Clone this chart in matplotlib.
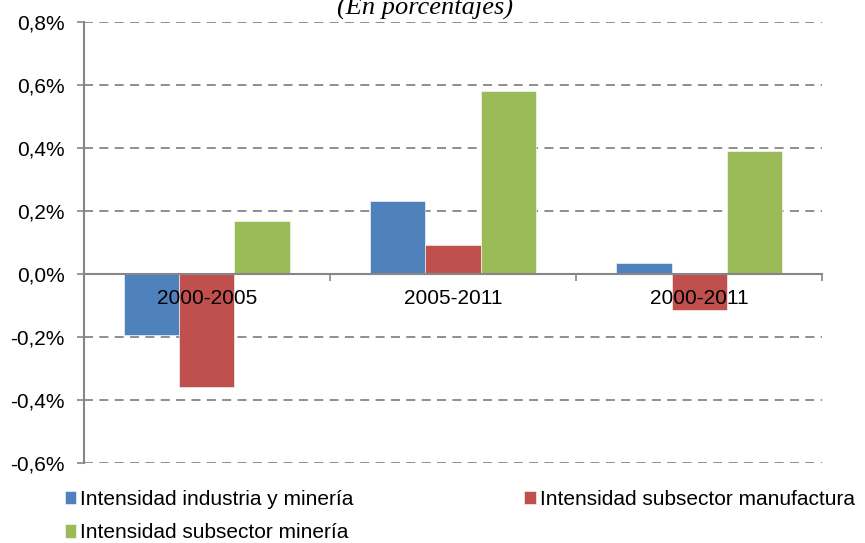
import matplotlib
matplotlib.use("Agg")
import matplotlib.pyplot as plt
import numpy as np

# Data (percent)
periods = ['2000-2005', '2005-2011', '2000-2011']
industria_mineria = [-0.195, 0.232, 0.035]
subsector_manufactura = [-0.358, 0.092, -0.114]
subsector_mineria = [0.168, 0.580, 0.391]
series_names = ['Intensidad industria y minería',
                'Intensidad subsector manufactura',
                'Intensidad subsector minería']
yticks = [-0.6, -0.4, -0.2, 0.0, 0.2, 0.4, 0.6, 0.8]

colors = ['#4F81BD', '#C0504D', '#9BBB59']
gray = '#868686'

plt.rcParams['font.family'] = ['Liberation Sans', 'DejaVu Sans']

fig = plt.figure(figsize=(8.65, 5.43), dpi=100)
ax = fig.add_axes([0.0971, 0.1473, 0.8532, 0.8122])
ax.set_axisbelow(False)  # tick labels drawn over the bars

x = np.arange(len(periods))
w = 0.2236
bars = []
for i, vals in enumerate([industria_mineria, subsector_manufactura, subsector_mineria]):
    b = ax.bar(x + (i - 1) * w, vals, width=w, color=colors[i],
               edgecolor='white', linewidth=0.4, label=series_names[i], zorder=2)
    bars.append(b)

ax.set_xlim(-0.5, 2.5)
ax.set_ylim(-0.6, 0.8)
ax.set_yticks(yticks)
ax.set_yticklabels([('%.1f%%' % v).replace('.', ',') for v in yticks], fontsize=15)
ax.tick_params(axis='y', length=5, width=1.2, color=gray, pad=9)

# gridlines
for v in yticks:
    if v != 0:
        ax.axhline(v, color=gray, linestyle=(0, (5, 3.5)), linewidth=1.3, zorder=1)

# spines
for s in ['top', 'right']:
    ax.spines[s].set_visible(False)
ax.spines['left'].set_color(gray)
ax.spines['left'].set_linewidth(1.5)
ax.spines['bottom'].set_position(('data', 0))
ax.spines['bottom'].set_color(gray)
ax.spines['bottom'].set_linewidth(1.5)

ax.set_xticks([-0.5, 0.5, 1.5, 2.5])
ax.set_xticklabels([])
ax.set_xticks(x, minor=True)
ax.set_xticklabels(periods, minor=True, fontsize=15)
ax.tick_params(axis='x', which='major', length=5, width=1.2, color=gray, direction='out')
ax.tick_params(axis='x', which='minor', length=0, pad=11)

fig.text(425 / 865, 1 - 8 / 543, '(En porcentajes)', ha='center', va='center',
         fontsize=19, style='italic', family=['Liberation Serif', 'DejaVu Serif'])

handles = [bars[0], bars[2], bars[1]]
labels = [series_names[0], series_names[2], series_names[1]]
fig.legend(handles, labels, ncol=2, loc='lower left', bbox_to_anchor=(0.065, -0.014),
           frameon=False, fontsize=15, handlelength=0.55, handleheight=0.6,
           handletextpad=0.2, columnspacing=8.2, labelspacing=0.68, borderaxespad=0)

fig.savefig('out.png', dpi=100)
